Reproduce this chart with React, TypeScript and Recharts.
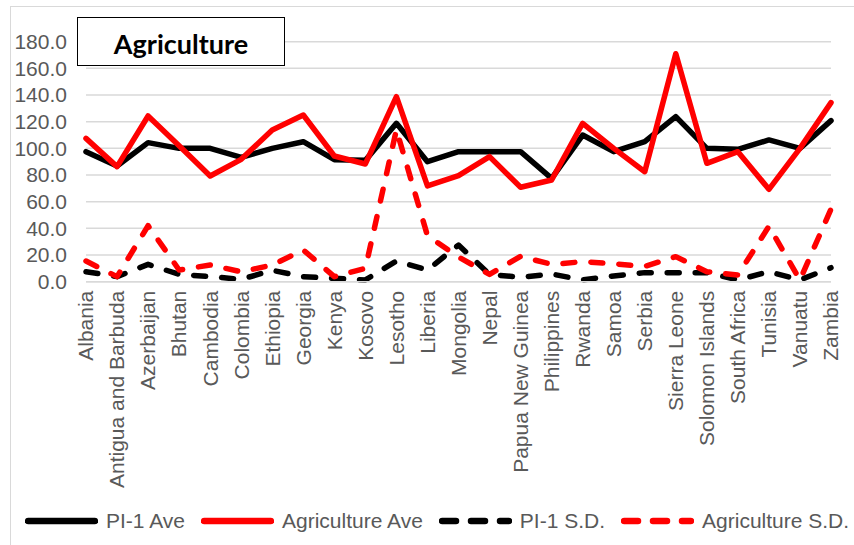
import { LineChart, Line, XAxis, YAxis, CartesianGrid } from 'recharts'

const countries = [
  'Albania', 'Antigua and Barbuda', 'Azerbaijan', 'Bhutan', 'Cambodia', 'Colombia',
  'Ethiopia', 'Georgia', 'Kenya', 'Kosovo', 'Lesotho', 'Liberia', 'Mongolia', 'Nepal',
  'Papua New Guinea', 'Philippines', 'Rwanda', 'Samoa', 'Serbia', 'Sierra Leone',
  'Solomon Islands', 'South Africa', 'Tunisia', 'Vanuatu', 'Zambia',
]

const pi1Ave = [
  97.5, 86.8, 104.3, 100, 100, 93.3, 100, 105, 91.5, 91, 118.8, 90, 97.5, 97.5,
  97.5, 77.5, 110, 97.5, 105, 123.8, 100, 99.3, 106.3, 100, 120.8,
]
const agricultureAve = [
  107.5, 86.3, 124.3, 102, 79.3, 91.8, 113.8, 125, 94.3, 88.3, 138.8, 71.8, 79.5, 93.8,
  70.8, 76.3, 118.8, 100, 82.5, 171, 88.8, 97.5, 69.3, 100, 134.3,
]
const pi1Sd = [
  7.5, 3.8, 13, 5.5, 3.8, 1.8, 8.5, 3.8, 2.5, 1.3, 15.5, 8.8, 27.5, 5.5,
  3.3, 5.8, 1.3, 4.3, 6.8, 6.8, 6.8, 1.3, 7.5, 1.3, 10.5,
]
const agricultureSd = [
  15.5, 3.8, 42, 8.8, 12.5, 7.5, 12.5, 23.8, 3.8, 10, 114, 34.5, 18.5, 5.5,
  19, 13, 15, 13.5, 11.5, 18.8, 7.5, 5, 41.5, 1.3, 54.5,
]

const yTicks = [0, 20, 40, 60, 80, 100, 120, 140, 160, 180]

const data = countries.map((name, i) => ({
  name,
  pi1Ave: pi1Ave[i],
  agricultureAve: agricultureAve[i],
  pi1Sd: pi1Sd[i],
  agricultureSd: agricultureSd[i],
}))

const series = [
  { key: 'pi1Ave', label: 'PI-1 Ave', color: '#000000', dashed: false },
  { key: 'agricultureAve', label: 'Agriculture Ave', color: '#ff0000', dashed: false },
  { key: 'pi1Sd', label: 'PI-1 S.D.', color: '#000000', dashed: true },
  { key: 'agricultureSd', label: 'Agriculture S.D.', color: '#ff0000', dashed: true },
]

const FONT = '"Liberation Sans", Arial, sans-serif'
const TEXT = '#595959'

function CountryTick({ x, y, payload }: any) {
  return (
    <g transform={`translate(${x},${y})`}>
      <text
        transform="rotate(-90)"
        textAnchor="end"
        dy="0.35em"
        fill={TEXT}
        fontSize={21}
        fontFamily={FONT}
      >
        {payload.value}
      </text>
    </g>
  )
}

function LegendRow() {
  return (
    <div
      style={{
        position: 'absolute',
        left: 25,
        top: 508,
        display: 'flex',
        alignItems: 'center',
        fontFamily: FONT,
        fontSize: 21,
        color: TEXT,
        whiteSpace: 'nowrap',
      }}
    >
      {series.map((s, i) => (
        <div
          key={s.key}
          style={{ display: 'flex', alignItems: 'center', marginRight: i < series.length - 1 ? 16 : 0 }}
        >
          <svg width={73} height={26}>
            <line
              x1={3}
              y1={13}
              x2={70}
              y2={13}
              stroke={s.color}
              strokeWidth={6.5}
              strokeLinecap="round"
              strokeDasharray={s.dashed ? '14 15' : undefined}
            />
          </svg>
          <span style={{ marginLeft: 8 }}>{s.label}</span>
        </div>
      ))}
    </div>
  )
}

export default function App() {
  return (
    <div style={{ position: 'absolute', left: 0, top: 0, width: 854, height: 545, background: '#fff', overflow: 'hidden' }}>
      <div
        style={{
          position: 'absolute',
          left: 10,
          top: 6,
          width: 900,
          height: 600,
          borderLeft: '1.5px solid #d9d9d9',
          borderTop: '1.5px solid #d9d9d9',
        }}
      />
      <LineChart
        width={854}
        height={545}
        data={data}
        margin={{ top: 41.7, right: 23, bottom: 43.3, left: 10 }}
      >
        <CartesianGrid vertical={false} stroke="#d9d9d9" strokeWidth={1.5} />
        <XAxis
          dataKey="name"
          interval={0}
          height={220}
          tick={<CountryTick />}
          tickLine={false}
          tickSize={0}
          tickMargin={9}
          axisLine={{ stroke: '#d9d9d9', strokeWidth: 1.5 }}
        />
        <YAxis
          width={76}
          domain={[0, 180]}
          ticks={yTicks}
          interval={0}
          tickFormatter={(v: number) => v.toFixed(1)}
          tick={{ fill: TEXT, fontSize: 21, fontFamily: FONT }}
          tickLine={false}
          tickSize={0}
          tickMargin={19}
          axisLine={false}
        />
        {series.map((s) => (
          <Line
            key={s.key}
            type="linear"
            dataKey={s.key}
            name={s.label}
            stroke={s.color}
            strokeWidth={5.5}
            strokeLinecap="round"
            strokeLinejoin="round"
            strokeDasharray={s.dashed ? '12 16' : undefined}
            dot={false}
            activeDot={false}
            isAnimationActive={false}
          />
        ))}
      </LineChart>
      <div
        style={{
          position: 'absolute',
          left: 77,
          top: 17,
          width: 208,
          height: 49,
          border: '1.8px solid #000',
          display: 'flex',
          alignItems: 'center',
          justifyContent: 'center',
          paddingTop: 3,
          boxSizing: 'border-box',
          fontFamily: 'Lato, "Open Sans", sans-serif',
          fontWeight: 700,
          fontSize: 27,
          color: '#000',
          background: '#fff',
        }}
      >
        Agriculture
      </div>
      <LegendRow />
    </div>
  )
}
